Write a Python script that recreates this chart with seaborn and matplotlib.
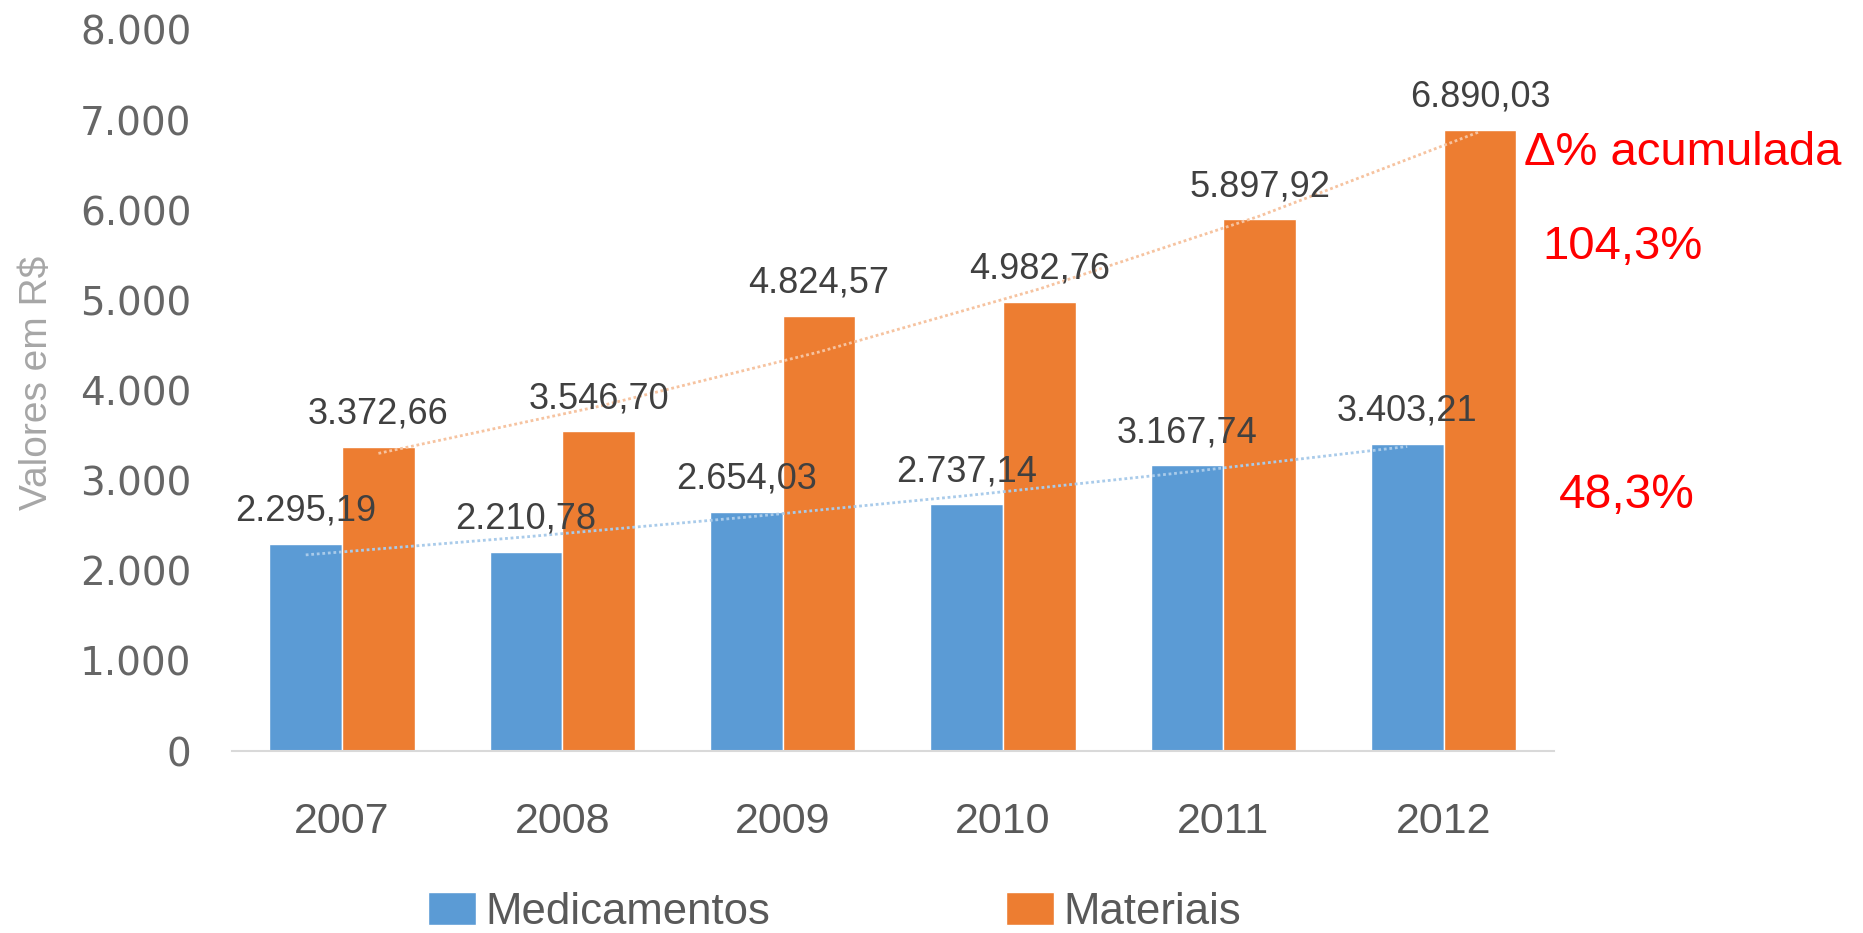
import numpy as np
import pandas as pd
import matplotlib
matplotlib.use('Agg')
import matplotlib.pyplot as plt
import seaborn as sns

# valores
anos = ['2007', '2008', '2009', '2010', '2011', '2012']
medicamentos = [2295.19, 2210.78, 2654.03, 2737.14, 3167.74, 3403.21]
materiais = [3372.66, 3546.70, 4824.57, 4982.76, 5897.92, 6890.03]
series = ['Medicamentos', 'Materiais']
cores = ['#5B9BD5', '#ED7D31']
cores_tendencia = ['#A9CBEA', '#F6C3A0']
yticks = [0, 1000, 2000, 3000, 4000, 5000, 6000, 7000, 8000]
delta_titulo = '\u0394% acumulada'
delta_materiais = '104,3%'
delta_medicamentos = '48,3%'

fonte = ['Liberation Sans', 'DejaVu Sans']


def br(v):
    # formato brasileiro: 3.372,66
    return f'{v:,.2f}'.replace(',', 'X').replace('.', ',').replace('X', '.')


df = pd.DataFrame({
    'Ano': anos * 2,
    'Valor': medicamentos + materiais,
    'Serie': [series[0]] * len(anos) + [series[1]] * len(anos),
})

sns.set_style('white')
fig = plt.figure(figsize=(18.63, 9.33), dpi=100)
ax = fig.add_axes([0.1245, 0.195, 0.7095, 0.773])

sns.barplot(data=df, x='Ano', y='Valor', hue='Serie', palette=cores,
            width=0.66, saturation=1, ax=ax, zorder=2)

ax.set_xlim(-0.5, 5.5)
ax.set_ylim(0, 8000)
ax.set_yticks(yticks)
ax.set_yticklabels([f'{t:,}'.replace(',', '.') for t in yticks],
                   fontsize=28, color='#666666', family='DejaVu Sans')
ax.tick_params(axis='y', length=0, pad=29)
ax.tick_params(axis='x', length=0, pad=37)
for lab in ax.get_xticklabels():
    lab.set_fontsize(31)
    lab.set_color('#595959')
    lab.set_family(fonte)

for s in ['top', 'right', 'left']:
    ax.spines[s].set_visible(False)
ax.spines['bottom'].set_color('#D9D9D9')
ax.spines['bottom'].set_linewidth(1.5)
ax.set_xlabel('')
ax.set_ylabel('')
fig.text(0.02, 0.5895, 'Valores em R$', rotation=90, ha='center', va='center',
         fontsize=28, color='#A6A6A6', family=fonte)

# linhas de tendência (exponencial) e rótulos de dados
for cont, vals, ct in zip(ax.containers, [medicamentos, materiais], cores_tendencia):
    xc = np.array([b.get_x() + b.get_width() / 2 for b in cont])
    idx = np.arange(len(vals))
    b1, b0 = np.polyfit(idx, np.log(vals), 1)
    ax.plot(xc, np.exp(b0 + b1 * idx), linestyle=(0, (1, 1)), color=ct,
            lw=2, zorder=3)
    ax.bar_label(cont, labels=[br(v) for v in vals], padding=11, fontsize=26,
                 color='#404040', family=fonte, zorder=4)

# legenda
h, l = ax.get_legend_handles_labels()
ax.get_legend().remove()
fig.legend(h, l, loc='center', bbox_to_anchor=(0.448, 0.0225), ncol=2,
           frameon=False, prop={'family': fonte, 'size': 31.5},
           labelcolor='#595959', handlelength=1.1, handleheight=0.78,
           handletextpad=0.2, columnspacing=5.4)

# anotações em vermelho
fig.text(1524 / 1863, 1 - 153 / 933, delta_titulo, color='red', fontsize=34,
         family=fonte, ha='left', va='center')
fig.text(1542 / 1863, 1 - 247 / 933, delta_materiais, color='red', fontsize=34,
         family=fonte, ha='left', va='center')
fig.text(1559 / 1863, 1 - 495 / 933, delta_medicamentos, color='red', fontsize=34.5,
         family=fonte, ha='left', va='center')

fig.savefig('out.png', dpi=100, facecolor='white')
